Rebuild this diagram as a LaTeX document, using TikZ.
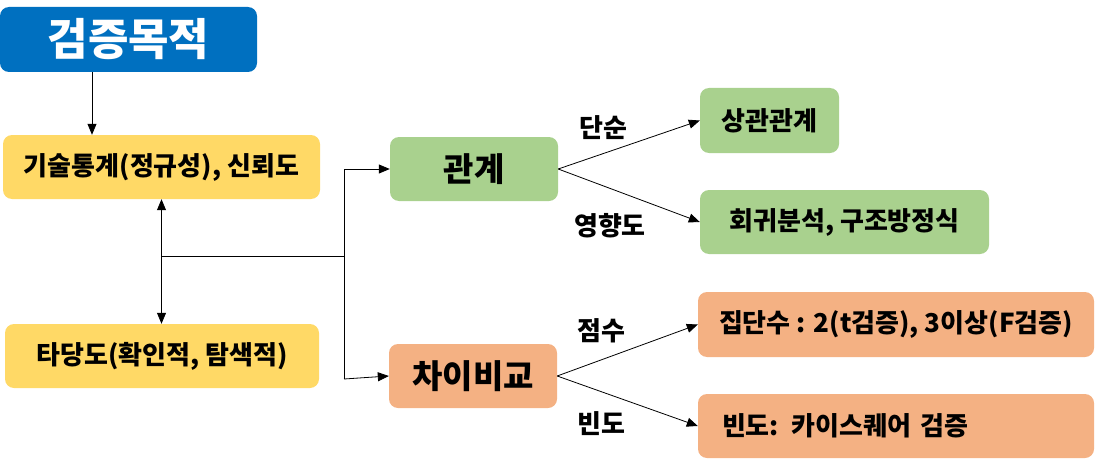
\documentclass[tikz,border=0pt]{standalone}
\usepackage{fontspec}
\setmainfont{Noto Sans CJK KR}
\usetikzlibrary{arrows.meta,calc}
\definecolor{cblue}{HTML}{0070C0}
\definecolor{cyellow}{HTML}{FFD966}
\definecolor{cgreen}{HTML}{A9D18E}
\definecolor{corange}{HTML}{F4B183}
\tikzset{
  box/.style={rounded corners=9pt, inner sep=0pt, align=center, font=\bfseries\fontsize{26}{30}\selectfont},
  ybox/.style={box, fill=cyellow},
  gbox/.style={box, fill=cgreen},
  obox/.style={box, fill=corange},
  big/.style={font=\bfseries\fontsize{33}{38}\selectfont},
  lbl/.style={font=\bfseries\fontsize{26}{30}\selectfont, inner sep=0pt},
  conn/.style={line width=0.8pt},
  arr/.style={conn, -{Triangle[length=11pt,width=9pt]}},
  arrb/.style={conn, {Triangle[length=11pt,width=9pt]}-{Triangle[length=11pt,width=9pt]}},
}
\begin{document}
\begin{tikzpicture}[x=1pt,y=1pt]
\useasboundingbox (0,0) rectangle (1095,459);
\node[box, fill=cblue, text=white, minimum width=257pt, minimum height=65pt, font=\bfseries\fontsize{44}{50}\selectfont] (goal) at (128.5,419.5) {검증목적};
\node[ybox, minimum width=317pt, minimum height=64pt] (desc) at (161.5,292) {기술통계(정규성), 신뢰도};
\node[ybox, minimum width=314pt, minimum height=64pt] (valid) at (162,103) {타당도(확인적, 탐색적)};
\node[gbox, big, minimum width=168pt, minimum height=64pt] (rel) at (474,290) {관계};
\node[obox, big, minimum width=168pt, minimum height=64pt] (diff) at (473,83) {차이비교};
\node[gbox, minimum width=139pt, minimum height=65pt] (corr) at (769.5,338.5) {상관관계};
\node[gbox, minimum width=289pt, minimum height=64pt] (reg) at (844.5,237) {회귀분석, 구조방정식};
\node[obox, minimum width=396pt, minimum height=65pt] (grp) at (896,134.5) {집단수 : 2(t검증), 3이상(F검증)};
\node[obox, minimum width=396pt, minimum height=64pt, align=left, text width=348pt] (freq) at (896,33) {빈도: 카이스퀘어 검증};

\node[lbl] (l1) at (603,331) {단순};
\node[lbl] (l2) at (610,233) {영향도};
\node[lbl] (l3) at (601,128) {점수};
\node[lbl] (l4) at (601,35) {빈도};

\draw[arr] ([xshift=-36.5pt]goal.south) -- ([xshift=-36.5pt]goal.south |- desc.north);
\draw[arrb] (desc.south) -- (desc.south |- valid.north);
\coordinate (jt) at (344,290);
\coordinate (jm) at (344,203);
\coordinate (jb) at (344,80);
\draw[conn] (jt) -- (jb);
\draw[conn] (jm) -- (jm -| desc.south);
\draw[arr] (jt) -- (rel.west);
\draw[arr] (jb) -- (diff.west);
\draw[arr] (rel.east) -- (corr.west);
\draw[arr] (rel.east) -- (reg.west);
\draw[arr] (diff.east) -- (grp.west);
\draw[arr] (diff.east) -- (freq.west);
\end{tikzpicture}
\end{document}
